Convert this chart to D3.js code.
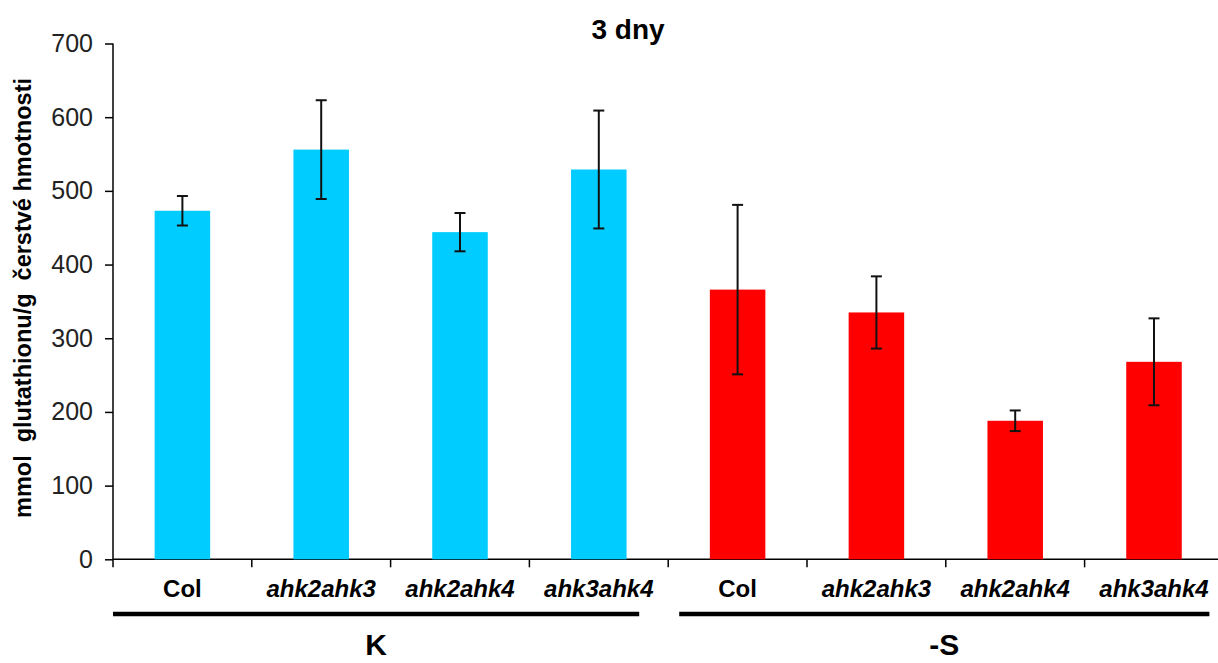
<!DOCTYPE html>
<html>
<head>
<meta charset="utf-8">
<script src="https://cdn.jsdelivr.net/npm/d3@7"></script>
<style>
body { margin: 0; background: #fff; }
text { font-family: "Liberation Sans", Arial, sans-serif; }
</style>
</head>
<body>
<div class="chart"></div>
<script>
const w = 1218;
const h = 663;

// data
const lines = ["Col", "ahk2ahk3", "ahk2ahk4", "ahk3ahk4"];
const groups = ["K", "-S"];
const kValues = [473, 556, 444, 529];
const kErr = [20, 67, 26, 80];
const sValues = [366, 335, 188, 268];
const sErr = [115, 49, 14, 59];
const yTicks = [0, 100, 200, 300, 400, 500, 600, 700];
const colors = ["#00ccff", "#ff0000"];

const rows = [];
lines.forEach((l, i) => rows.push({key: "K" + i, label: l, group: 0, v: kValues[i], e: kErr[i]}));
lines.forEach((l, i) => rows.push({key: "S" + i, label: l, group: 1, v: sValues[i], e: sErr[i]}));

const svg = d3.select(".chart")
  .append("svg")
  .attr("width", w)
  .attr("height", h);

const x = d3.scaleBand()
  .domain(rows.map(d => d.key))
  .range([113, 1223.4])
  .paddingInner(0.6)
  .paddingOuter(0.3);

const y = d3.scaleLinear()
  .domain([0, 700])
  .range([559.3, 43.5]);

const step = x.step();
const x0 = x.range()[0];

// title
svg.append("text")
  .attr("x", 628)
  .attr("y", 39)
  .attr("text-anchor", "middle")
  .attr("font-weight", "bold")
  .attr("font-size", 28)
  .text("3 dny");

// y axis
const yAxis = svg.append("g")
  .attr("transform", "translate(113,0)")
  .call(d3.axisLeft(y).tickValues(yTicks).tickSize(8).tickPadding(12));
yAxis.select(".domain").attr("stroke", "#000").attr("stroke-width", 1.5).attr("d", `M0,${y(700)}V${y(0)}`);
yAxis.selectAll(".tick line").attr("stroke", "#000").attr("stroke-width", 1.5);
yAxis.selectAll(".tick text")
  .attr("font-size", 25)
  .attr("fill", "#222")
  .attr("font-family", "Liberation Sans, Arial, sans-serif");

svg.append("text")
  .attr("transform", "translate(31,298) rotate(-90)")
  .attr("text-anchor", "middle")
  .attr("font-weight", "bold")
  .attr("font-size", 23.5)
  .style("white-space", "pre")
  .text("mmol  glutathionu/g  čerstvé hmotnosti");

// x axis line + boundary ticks
svg.append("line")
  .attr("x1", 113).attr("x2", w)
  .attr("y1", y(0)).attr("y2", y(0))
  .attr("stroke", "#000").attr("stroke-width", 1.5);

svg.selectAll(".xtick")
  .data(d3.range(rows.length))
  .enter().append("line")
  .attr("class", "xtick")
  .attr("x1", i => x0 + i * step)
  .attr("x2", i => x0 + i * step)
  .attr("y1", y(0))
  .attr("y2", y(0) + 8)
  .attr("stroke", "#000").attr("stroke-width", 1.5);

// bars
svg.selectAll(".bar")
  .data(rows)
  .enter().append("rect")
  .attr("class", "bar")
  .attr("x", d => x(d.key))
  .attr("width", x.bandwidth())
  .attr("y", d => y(d.v))
  .attr("height", d => y(0) - y(d.v))
  .attr("fill", d => colors[d.group]);

// error bars
const eb = svg.selectAll(".err")
  .data(rows)
  .enter().append("g")
  .attr("class", "err")
  .attr("stroke", "#111")
  .attr("stroke-width", 2);
eb.append("line")
  .attr("x1", d => x(d.key) + x.bandwidth() / 2)
  .attr("x2", d => x(d.key) + x.bandwidth() / 2)
  .attr("y1", d => y(d.v + d.e))
  .attr("y2", d => y(d.v - d.e));
eb.append("line")
  .attr("x1", d => x(d.key) + x.bandwidth() / 2 - 5.5)
  .attr("x2", d => x(d.key) + x.bandwidth() / 2 + 5.5)
  .attr("y1", d => y(d.v + d.e))
  .attr("y2", d => y(d.v + d.e));
eb.append("line")
  .attr("x1", d => x(d.key) + x.bandwidth() / 2 - 5.5)
  .attr("x2", d => x(d.key) + x.bandwidth() / 2 + 5.5)
  .attr("y1", d => y(d.v - d.e))
  .attr("y2", d => y(d.v - d.e));

// category labels
svg.selectAll(".xlabel")
  .data(rows)
  .enter().append("text")
  .attr("class", "xlabel")
  .attr("x", d => x(d.key) + x.bandwidth() / 2)
  .attr("y", 597)
  .attr("text-anchor", "middle")
  .attr("font-weight", "bold")
  .attr("font-size", 24)
  .attr("font-style", d => d.label === "Col" ? "normal" : "italic")
  .text(d => d.label);

// group brackets
const groupSpan = [[x0, x0 + 4 * step - 29], [x0 + 4 * step + 11, x0 + 8 * step - 14]];
svg.selectAll(".gline")
  .data(groups)
  .enter().append("line")
  .attr("class", "gline")
  .attr("x1", (d, i) => groupSpan[i][0])
  .attr("x2", (d, i) => groupSpan[i][1])
  .attr("y1", 614).attr("y2", 614)
  .attr("stroke", "#000").attr("stroke-width", 4.5);

svg.selectAll(".glabel")
  .data(groups)
  .enter().append("text")
  .attr("class", "glabel")
  .attr("x", (d, i) => (groupSpan[i][0] + groupSpan[i][1]) / 2)
  .attr("y", 655)
  .attr("text-anchor", "middle")
  .attr("font-weight", "bold")
  .attr("font-size", 30)
  .text(d => d);
</script>
</body>
</html>
